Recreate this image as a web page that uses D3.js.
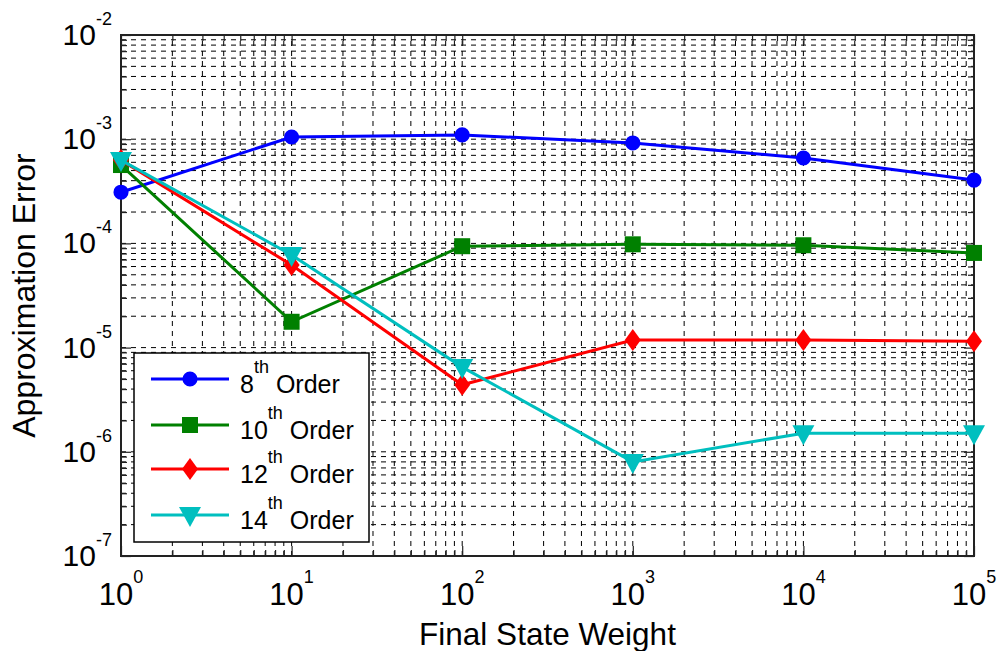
<!DOCTYPE html>
<html>
<head>
<meta charset="utf-8">
<script src="https://cdn.jsdelivr.net/npm/d3@7"></script>
<style>
  html, body { margin: 0; padding: 0; background: #fff; }
  svg { display: block; font-family: Arial, "Liberation Sans", sans-serif; }
</style>
</head>
<body>
<svg id="chart" width="997" height="651"></svg>
<script>
// ---- data ----
const weights = [1, 10, 100, 1000, 10000, 100000];
const order8  = [3.1e-4, 1.05e-3, 1.1e-3, 9.2e-4, 6.6e-4, 4.05e-4];
const order10 = [5.65e-4, 1.77e-5, 9.4e-5, 9.8e-5, 9.6e-5, 8.1e-5];
const order12 = [6.3e-4, 6.2e-5, 4.4e-6, 1.18e-5, 1.18e-5, 1.15e-5];
const order14 = [6.3e-4, 7.75e-5, 6.5e-6, 8.0e-7, 1.51e-6, 1.51e-6];
const seriesNames = ["8", "10", "12", "14"];
const xTickExps = [0, 1, 2, 3, 4, 5];
const yTickExps = [-2, -3, -4, -5, -6, -7];

const svg = d3.select("#chart");
const L = 121, R = 974, T = 35, B = 556;
const x = d3.scaleLog().domain([1, 1e5]).range([L, R]);
const y = d3.scaleLog().domain([1e-7, 1e-2]).range([B, T]);

// minor/major values
const xMinor = [], yMinor = [];
for (let e = 0; e < 5; e++) for (let m = 2; m <= 9; m++) xMinor.push(m * Math.pow(10, e));
for (let e = -7; e < -2; e++) for (let m = 2; m <= 9; m++) yMinor.push(m * Math.pow(10, e));
const xMajor = xTickExps.map(e => Math.pow(10, e));
const yMajor = yTickExps.map(e => Math.pow(10, e));

// grid
const grid = svg.append("g").attr("stroke", "#000").attr("stroke-width", 1)
  .attr("stroke-dasharray", "5,5").attr("fill", "none");
xMajor.concat(xMinor).forEach(v => {
  grid.append("line").attr("x1", x(v)).attr("x2", x(v)).attr("y1", B).attr("y2", T);
});
yMajor.concat(yMinor).forEach(v => {
  grid.append("line").attr("x1", L).attr("x2", R).attr("y1", y(v)).attr("y2", y(v));
});

// axes (ticks inward on all four sides)
function styleAxis(g) {
  g.select(".domain").remove();
  g.selectAll(".tick line").attr("stroke", "#222").attr("stroke-width", 1.2);
}
svg.append("g").attr("transform", `translate(0,${B})`)
  .call(d3.axisBottom(x).tickValues(xMajor).tickSize(-10).tickFormat("")).call(styleAxis);
svg.append("g").attr("transform", `translate(0,${B})`)
  .call(d3.axisBottom(x).tickValues(xMinor).tickSize(-6).tickFormat("")).call(styleAxis);
svg.append("g").attr("transform", `translate(0,${T})`)
  .call(d3.axisTop(x).tickValues(xMajor).tickSize(-10).tickFormat("")).call(styleAxis);
svg.append("g").attr("transform", `translate(0,${T})`)
  .call(d3.axisTop(x).tickValues(xMinor).tickSize(-6).tickFormat("")).call(styleAxis);
svg.append("g").attr("transform", `translate(${L},0)`)
  .call(d3.axisLeft(y).tickValues(yMajor).tickSize(-10).tickFormat("")).call(styleAxis);
svg.append("g").attr("transform", `translate(${L},0)`)
  .call(d3.axisLeft(y).tickValues(yMinor).tickSize(-6).tickFormat("")).call(styleAxis);
svg.append("g").attr("transform", `translate(${R},0)`)
  .call(d3.axisRight(y).tickValues(yMajor).tickSize(-10).tickFormat("")).call(styleAxis);
svg.append("g").attr("transform", `translate(${R},0)`)
  .call(d3.axisRight(y).tickValues(yMinor).tickSize(-6).tickFormat("")).call(styleAxis);

// tick labels
const xl = svg.append("g").attr("fill", "#000");
xTickExps.forEach(e => {
  const t = xl.append("text").attr("x", x(Math.pow(10, e))).attr("y", B + 49)
    .attr("text-anchor", "middle").attr("font-size", 31);
  t.append("tspan").text("10");
  t.append("tspan").attr("dy", -22).attr("font-size", 18).text(e);
});
const yl = svg.append("g").attr("fill", "#000");
yTickExps.forEach(e => {
  const t = yl.append("text").attr("x", L - 9).attr("y", y(Math.pow(10, e)) + 10)
    .attr("text-anchor", "end").attr("font-size", 30);
  t.append("tspan").text("10");
  t.append("tspan").attr("dy", -20).attr("font-size", 18).text(e);
});

// axis labels
svg.append("text").attr("x", (L + R) / 2).attr("y", 645).attr("text-anchor", "middle")
  .attr("font-size", 31.5).attr("fill", "#000").text("Final State Weight");
svg.append("text").attr("transform", `translate(35,${(T + B) / 2}) rotate(-90)`)
  .attr("text-anchor", "middle").attr("font-size", 32).attr("fill", "#000").text("Approximation Error");

// box
svg.append("rect").attr("x", L).attr("y", T).attr("width", R - L).attr("height", B - T)
  .attr("fill", "none").attr("stroke", "#222").attr("stroke-width", 2);

// markers
function markerPath(kind) {
  if (kind === "circle") return d3.symbol(d3.symbolCircle, 180)();
  if (kind === "square") return "M-8,-8H8V8H-8Z";
  if (kind === "diamond") return "M0,-11L8,0L0,11L-8,0Z";
  return "M-11,-8L11,-8L0,12Z"; // triangle down
}
const series = [
  { name: seriesNames[0], values: order8,  color: "#0000ff", marker: "circle" },
  { name: seriesNames[1], values: order10, color: "#008000", marker: "square" },
  { name: seriesNames[2], values: order12, color: "#ff0000", marker: "diamond" },
  { name: seriesNames[3], values: order14, color: "#00bfbf", marker: "triangle" }
];
const line = d3.line().x(d => x(d[0])).y(d => y(d[1]));
series.forEach(s => {
  const pts = weights.map((w, i) => [w, s.values[i]]);
  const g = svg.append("g");
  g.append("path").attr("d", line(pts)).attr("fill", "none")
    .attr("stroke", s.color).attr("stroke-width", 3);
  g.selectAll("path.m").data(pts).enter().append("path").attr("class", "m")
    .attr("d", markerPath(s.marker))
    .attr("transform", d => `translate(${x(d[0])},${y(d[1])})`)
    .attr("fill", s.color);
});

// legend
const lg = svg.append("g");
lg.append("rect").attr("x", 134).attr("y", 353).attr("width", 235).attr("height", 189)
  .attr("fill", "#fff").attr("stroke", "#000").attr("stroke-width", 1.5);
const rowY = [379, 425, 469, 515];
series.forEach((s, i) => {
  const cy = rowY[i];
  lg.append("line").attr("x1", 151).attr("x2", 229).attr("y1", cy).attr("y2", cy)
    .attr("stroke", s.color).attr("stroke-width", 3);
  lg.append("path").attr("d", markerPath(s.marker))
    .attr("transform", `translate(190,${cy})`).attr("fill", s.color);
  const t = lg.append("text").attr("x", 240).attr("y", cy + 14).attr("font-size", 25).attr("fill", "#000");
  t.append("tspan").text(s.name);
  t.append("tspan").attr("dy", -20).attr("font-size", 18).text("th");
  t.append("tspan").attr("dy", 20).attr("dx", 7).text("Order");
});
</script>
</body>
</html>
